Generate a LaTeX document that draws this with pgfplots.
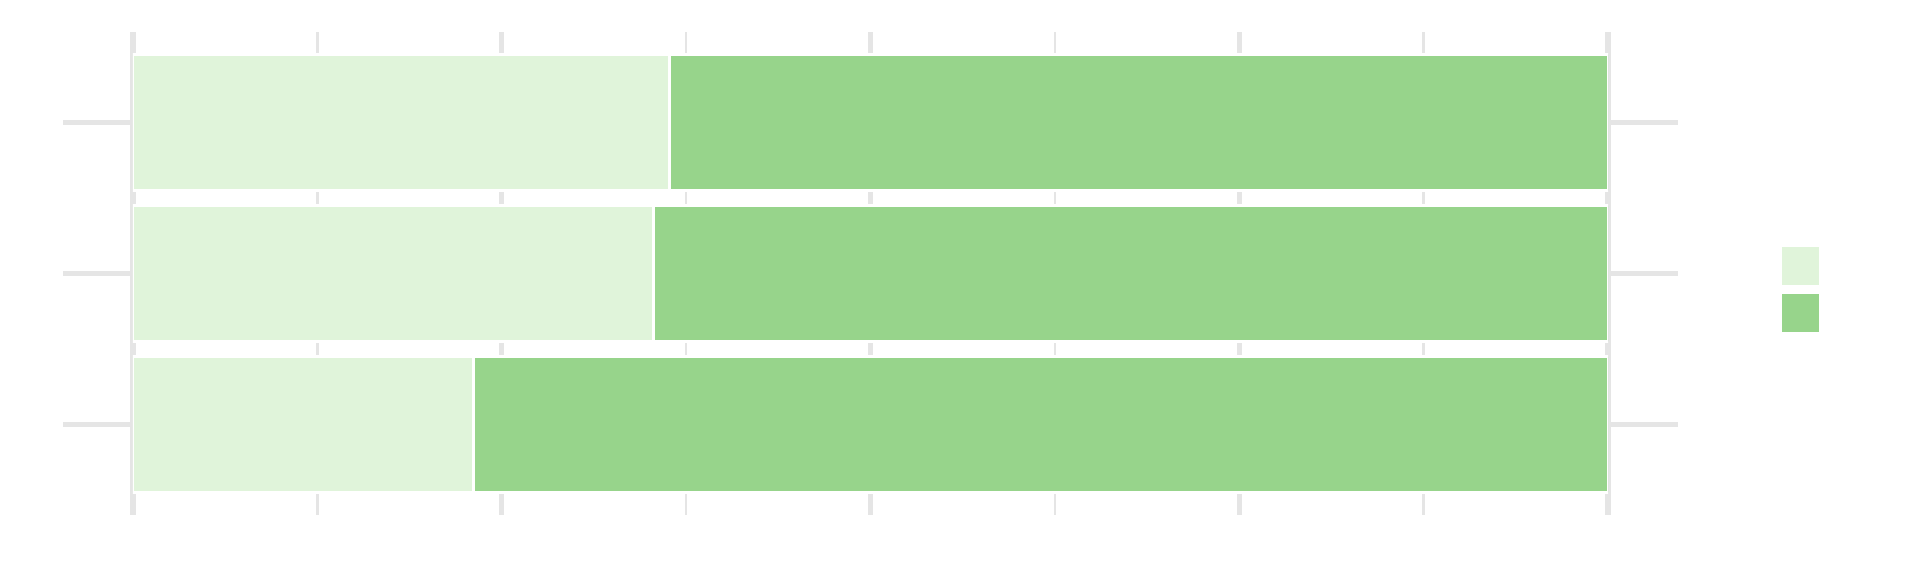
\documentclass[border=0pt]{standalone}
\usepackage{pgfplots}
\pgfplotsset{compat=1.18}
\definecolor{lightg}{RGB}{224,244,218}
\definecolor{darkg}{RGB}{151,212,139}
\definecolor{gridg}{RGB}{229,229,229}
\begin{document}
\begin{tikzpicture}
\useasboundingbox (-66.5pt,-30.5pt) rectangle (893.5pt,257.5pt);
\begin{axis}[
  at={(0,0)}, anchor=south west,
  scale only axis, width=737.5pt, height=241.5pt,
  xbar stacked, bar width=0.9,
  xmin=0, xmax=100, ymin=0.4, ymax=3.6,
  xtick={0,25,50,75,100}, minor xtick={12.5,37.5,62.5,87.5},
  xticklabels={}, xmajorgrids, xminorgrids,
  major x grid style={draw=gridg, line width=2.6pt},
  minor x grid style={draw=gridg, line width=1.2pt},
  xtick style={draw=none}, minor x tick style={draw=none},
  ytick={1,2,3}, yticklabels={}, tick align=outside, major tick length=35pt,
  ytick style={draw=gridg, line width=2.5pt},
  axis line style={draw=none},
  legend style={at={(1.1312,0.4669)}, anchor=center, draw=none, fill=none,
    inner sep=0pt, row sep=3.5pt, nodes={inner sep=0pt, text depth=0pt}},
]
\addplot[fill=lightg, draw=white, line width=1.5pt,
  legend image code/.code={\path[fill=lightg, draw=white, line width=0.6pt] (0pt,-9.75pt) rectangle (19.5pt,9.75pt);}]
  coordinates {(36.4,3) (35.3,2) (23.1,1)};
\addlegendentry{}
\addplot[fill=darkg, draw=white, line width=1.5pt,
  legend image code/.code={\path[fill=darkg, draw=white, line width=0.6pt] (0pt,-9.75pt) rectangle (19.5pt,9.75pt);}]
  coordinates {(63.6,3) (64.7,2) (76.9,1)};
\addlegendentry{}
\end{axis}
\end{tikzpicture}
\end{document}
